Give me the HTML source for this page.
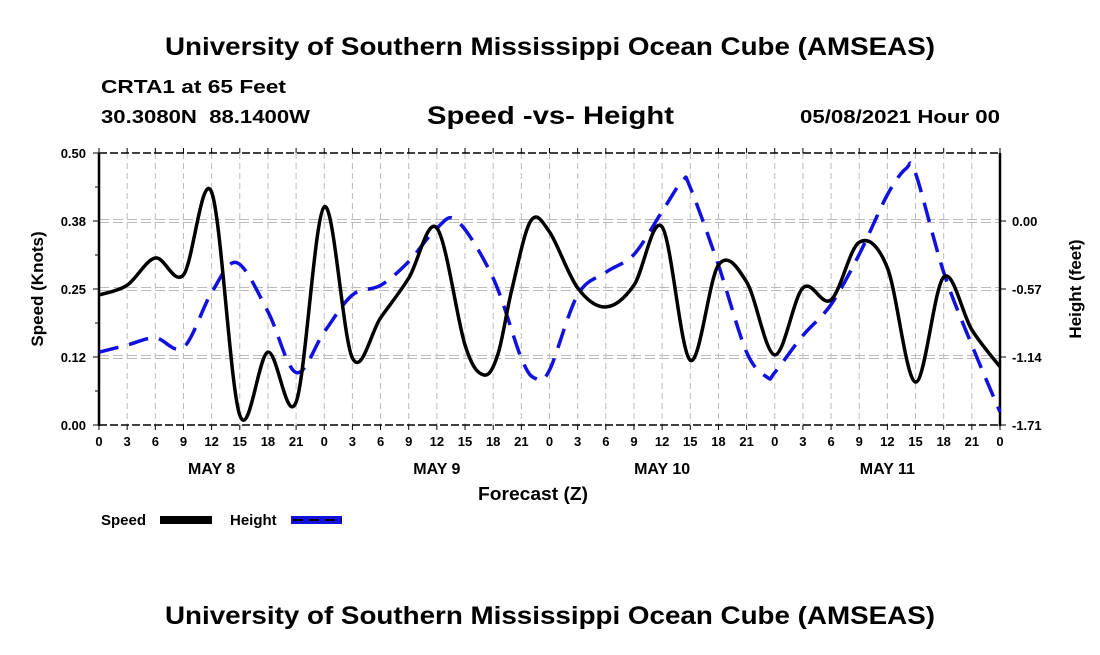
<!DOCTYPE html>
<html><head><meta charset="utf-8"><style>
body{margin:0;background:#fff;}
svg text{font-family:"Liberation Sans",Arial,sans-serif;font-weight:bold;fill:#000;}
</style></head><body>
<svg id="chart" width="1100" height="650" xmlns="http://www.w3.org/2000/svg">
<rect width="1100" height="650" fill="#fff"/>
<text x="165" y="55" font-size="25" textLength="770" lengthAdjust="spacingAndGlyphs">University of Southern Mississippi Ocean Cube (AMSEAS)</text>
<text x="101" y="93" font-size="18" textLength="185" lengthAdjust="spacingAndGlyphs">CRTA1 at 65 Feet</text>
<text x="101" y="123" font-size="18" textLength="209" lengthAdjust="spacingAndGlyphs" xml:space="preserve">30.3080N  88.1400W</text>
<text x="427" y="124" font-size="25" textLength="247" lengthAdjust="spacingAndGlyphs">Speed -vs- Height</text>
<text x="800" y="123" font-size="18" textLength="200" lengthAdjust="spacingAndGlyphs">05/08/2021 Hour 00</text>
<g id="grid"></g>
<g id="axes"></g>
<g id="series"></g>
<text transform="translate(43,289) rotate(-90)" font-size="17" text-anchor="middle">Speed (Knots)</text>
<text transform="translate(1081,289) rotate(-90)" font-size="17" text-anchor="middle">Height (feet)</text>
<text x="478" y="500" font-size="18" textLength="110" lengthAdjust="spacingAndGlyphs">Forecast (Z)</text>
<g>
<text x="101" y="525" font-size="15">Speed</text>
<rect x="160" y="516" width="52" height="8" fill="#000"/>
<text x="230" y="525" font-size="15">Height</text>
<rect x="291" y="516" width="51" height="8" fill="#1010e0"/>
<line x1="293" y1="520" x2="342" y2="520" stroke="#000" stroke-width="2" stroke-dasharray="10,6"/>
</g>
<text x="165" y="624" font-size="25" textLength="770" lengthAdjust="spacingAndGlyphs">University of Southern Mississippi Ocean Cube (AMSEAS)</text>
</svg>
<script>
const speedHours=[0,3,6,9,12,15,18,21,24,27,30,33,36,39,41,42.5,44,46,48,51,54,57,60,63,66,69,72,75,78,81,84,87,90,93,96];
const speedValues=[0.239,0.257,0.307,0.276,0.428,0.018,0.134,0.042,0.401,0.123,0.197,0.270,0.362,0.147,0.092,0.13,0.25,0.375,0.355,0.252,0.217,0.257,0.364,0.119,0.294,0.263,0.129,0.252,0.230,0.336,0.289,0.079,0.272,0.175,0.107];
const heightHours=[0,3,6,9,12,14.7,18,21,24,27,30,33,36,38.2,42,45,46.5,48,51,54,57,60,62.2,63,66,69,71.2,72,75,78,81,84,86,87,90,93,96];
const heightValues=[-1.10,-1.04,-0.98,-1.06,-0.60,-0.35,-0.76,-1.27,-0.93,-0.62,-0.54,-0.34,-0.06,0.0,-0.48,-1.15,-1.32,-1.25,-0.62,-0.43,-0.28,0.08,0.34,0.28,-0.37,-1.10,-1.31,-1.27,-0.96,-0.70,-0.28,0.22,0.44,0.40,-0.43,-1.04,-1.60];
const xTickLabels=["0","3","6","9","12","15","18","21","0","3","6","9","12","15","18","21","0","3","6","9","12","15","18","21","0","3","6","9","12","15","18","21","0"];
const dayLabels=["MAY 8","MAY 9","MAY 10","MAY 11"];
const speedTicks=["0.00","0.12","0.25","0.38","0.50"];
const heightTicks=["-1.71","-1.14","-0.57","0.00"];

const NS="http://www.w3.org/2000/svg";
const X0=99,X1=1000,Y0=425,Y1=153;
const xs=h=>X0+(X1-X0)*h/96;
const ys=v=>Y0-(Y0-Y1)*v/0.5;
const yh=v=>221-v*68/0.57;
function mk(tag,attrs,parent){const e=document.createElementNS(NS,tag);for(const k in attrs)e.setAttribute(k,attrs[k]);parent.appendChild(e);return e;}
const grid=document.getElementById('grid'),axes=document.getElementById('axes'),series=document.getElementById('series');
xTickLabels.forEach((t,i)=>{
  const x=xs(i*3);
  const g=mk('line',{x1:x,y1:Y1,x2:x,y2:Y0,stroke:'#bbb','stroke-width':1,'stroke-dasharray':'6,4'},grid);
  
  
  mk('line',{x1:x,y1:Y0,x2:x,y2:Y0+5,stroke:'#000','stroke-width':1},axes);
  mk('line',{x1:x,y1:Y1,x2:x,y2:Y1-5,stroke:'#000','stroke-width':1},axes);
  const tx=mk('text',{x:x,y:446,'font-size':13,'text-anchor':'middle'},axes);
  tx.textContent=t;
  
  
});
dayLabels.forEach((d,i)=>{
  const tx=mk('text',{x:xs(12+24*i),y:474,'font-size':16,'text-anchor':'middle'},axes);
  tx.textContent=d;
  
  
});
speedTicks.forEach((t,i)=>{
  const y=ys(i*0.125);
  if(i>0&&i<4){
    const g=mk('line',{x1:X0,y1:y-1.5,x2:X1,y2:y-1.5,stroke:'#bbb','stroke-width':1,'stroke-dasharray':'10,4'},grid);
    
    
    mk('line',{x1:X0,y1:y+1.5,x2:X1,y2:y+1.5,stroke:'#bbb','stroke-width':1,'stroke-dasharray':'10,4'},grid);
  }
  mk('line',{x1:X0-6,y1:y,x2:X0,y2:y,stroke:'#000','stroke-width':1},axes);
  const tx=mk('text',{x:86,y:y+5,'font-size':13,'text-anchor':'end'},axes);
  tx.textContent=t;
  
  
  if(i<4){const ym=ys(i*0.125+0.0625);mk('line',{x1:X0-4,y1:ym,x2:X0,y2:ym,stroke:'#000'},axes);}
});
heightTicks.forEach((t,i)=>{
  const y=yh(parseFloat(t));
  mk('line',{x1:X1,y1:y,x2:X1+6,y2:y,stroke:'#000','stroke-width':1},axes);
  const tx=mk('text',{x:1012,y:y+5,'font-size':13},axes);
  tx.textContent=t;
  
  
});
mk('line',{x1:X0,y1:Y1,x2:X1,y2:Y1,stroke:'#000','stroke-width':1.5,'stroke-dasharray':'8,3'},axes);
mk('line',{x1:X0,y1:Y0,x2:X1,y2:Y0,stroke:'#000','stroke-width':1.5,'stroke-dasharray':'8,3'},axes);
mk('line',{x1:X0,y1:Y1,x2:X0,y2:Y0+1,stroke:'#000','stroke-width':2.5},axes);
mk('line',{x1:X1,y1:Y1,x2:X1,y2:Y0+1,stroke:'#000','stroke-width':2.5},axes);

function smooth(pts){
  let d=`M${pts[0][0]},${pts[0][1]}`;
  for(let i=0;i<pts.length-1;i++){
    const p0=pts[Math.max(0,i-1)],p1=pts[i],p2=pts[i+1],p3=pts[Math.min(pts.length-1,i+2)];
    const c1=[p1[0]+(p2[0]-p0[0])/6,p1[1]+(p2[1]-p0[1])/6];
    const c2=[p2[0]-(p3[0]-p1[0])/6,p2[1]-(p3[1]-p1[1])/6];
    d+=`C${c1[0]},${c1[1]} ${c2[0]},${c2[1]} ${p2[0]},${p2[1]}`;
  }
  return d;
}
const hp=heightHours.map((h,i)=>[xs(h),yh(heightValues[i])]);
const hl=mk('path',{d:smooth(hp),fill:'none',stroke:'#1010e0','stroke-width':3.5,'stroke-dasharray':'20,11'},series);


const sp=speedHours.map((h,i)=>[xs(h),ys(speedValues[i])]);
const sl=mk('path',{d:smooth(sp),fill:'none',stroke:'#000','stroke-width':3.5},series);


</script>
</body></html>
